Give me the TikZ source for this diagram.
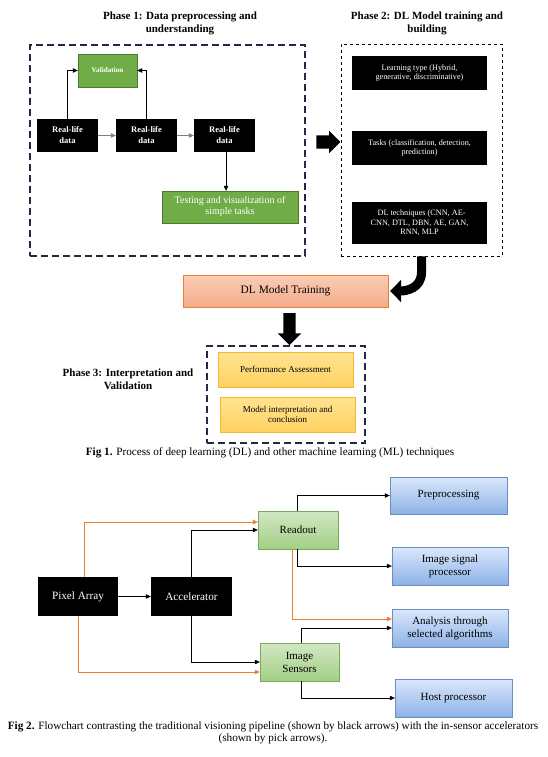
\documentclass[tikz,border=0pt]{standalone}
\usepackage{fontspec}
\setmainfont{Liberation Serif}
\usetikzlibrary{arrows.meta,shapes.arrows}
\definecolor{navy}{HTML}{1F2A44}
\definecolor{grn}{HTML}{70AD47}
\definecolor{grnline}{HTML}{4E7A30}
\definecolor{orng}{HTML}{ED7D31}
\definecolor{salmtop}{HTML}{F9CDB5}
\definecolor{salmbot}{HTML}{F4AC8A}
\definecolor{yeltop}{HTML}{FFE391}
\definecolor{yelbot}{HTML}{FFD262}
\definecolor{yelline}{HTML}{F2B830}
\definecolor{ltgtop}{HTML}{D2E8C4}
\definecolor{ltgbot}{HTML}{A2CF85}
\definecolor{ltgline}{HTML}{7AAA55}
\definecolor{blutop}{HTML}{DAE8FC}
\definecolor{blubot}{HTML}{8DB2E6}
\definecolor{bluline}{HTML}{6C8EBF}
\begin{document}
\begin{tikzpicture}[x=1pt,y=-1pt,>={Triangle[length=5pt,width=4.5pt]},
    blk/.style={fill=black,text=white,align=center,inner sep=0pt,font=\fontsize{8.2}{9.5}\selectfont},
    gbox/.style={fill=grn,draw=grnline,text=white,align=center,inner sep=0pt,font=\fontsize{8}{9.5}\selectfont},
    ybox/.style={top color=yeltop,bottom color=yelbot,draw=yelline,align=center,inner sep=0pt,font=\fontsize{9}{10.5}\selectfont},
    lgbox/.style={top color=ltgtop,bottom color=ltgbot,draw=ltgline,align=center,inner sep=0pt,font=\fontsize{11}{13}\selectfont},
    bbox/.style={top color=blutop,bottom color=blubot,draw=bluline,align=center,inner sep=0pt,font=\fontsize{11}{13}\selectfont},
    phase/.style={align=center,font=\fontsize{11}{13}\selectfont\bfseries},
    frame/.style={draw=navy,line width=1.8pt,dash pattern=on 7pt off 4pt},
    orr/.style={->,draw=orng},
    figcap/.style={align=center,font=\fontsize{11.2}{12.5}\selectfont}]
\useasboundingbox (0,0) rectangle (547,757);

% Fig 1
\node[phase] (P1t) at (180,23) {Phase 1: Data preprocessing and\\understanding};
\node[phase] (P2t) at (427,23) {Phase 2: DL Model training and\\building};
\node[phase] (P3t) at (128,379) {Phase 3: Interpretation and\\Validation};

\node[frame,minimum width=275,minimum height=211,inner sep=0pt] (P1) at (167.5,150.5) {};
\node[draw,dashed,line width=0.6pt,minimum width=161,minimum height=212,inner sep=0pt] (P2) at (421.5,150) {};
\node[frame,minimum width=158,minimum height=97,inner sep=0pt] (P3) at (286,394.5) {};

\node[gbox,minimum width=59,minimum height=33,font=\fontsize{7.2}{8}\selectfont\bfseries] (V) at (107.5,70.5) {Validation};
\node[blk,minimum width=61,minimum height=33,font=\fontsize{8.5}{11}\selectfont\bfseries] (R1) at (67.5,135.5) {Real-life\\data};
\node[blk,minimum width=61,minimum height=33,font=\fontsize{8.5}{11}\selectfont\bfseries] (R2) at (146.5,135.5) {Real-life\\data};
\node[blk,minimum width=61,minimum height=33,font=\fontsize{8.5}{11}\selectfont\bfseries] (R3) at (224.5,135.5) {Real-life\\data};
\node[gbox,minimum width=136,minimum height=32,font=\fontsize{10}{11}\selectfont] (T) at (230,207) {Testing and visualization of\\simple tasks};

\node[blk,minimum width=135,minimum height=34] (L) at (419.5,73) {Learning type (Hybrid,\\generative, discriminative)};
\node[blk,minimum width=135,minimum height=34] (Ta) at (419.5,148) {Tasks (classification, detection,\\prediction)};
\node[blk,minimum width=135,minimum height=42] (Te) at (419.5,223) {\ \ DL techniques (CNN, AE-\\CNN, DTL, DBN, AE, GAN,\\RNN, MLP};

\node[top color=salmtop,bottom color=salmbot,draw=orng,minimum width=205,minimum height=32,inner sep=0pt,font=\fontsize{11.4}{13}\selectfont] (M) at (285.5,291) {DL Model Training};
\node[ybox,minimum width=135,minimum height=35] (Pa) at (285.5,369.5) {Performance Assessment};
\node[ybox,minimum width=135,minimum height=35] (Mi) at (287.5,414.5) {Model interpretation and\\conclusion};

\node[single arrow,fill=black,minimum height=24pt,minimum width=22pt,single arrow head extend=4.5pt,inner sep=6.5pt] (A1) at (325,142) {};
\node[single arrow,fill=black,shape border rotate=270,minimum height=32pt,minimum width=23pt,single arrow head extend=5.5pt,inner sep=6pt] (A2) at (289.5,326) {};

\draw[->,gray] (R1) to (R2); \draw[->,gray] (R2) to (R3);
\draw[->] (R1.north) |- (V.west); \draw[->] (R2.north) |- (V.east);
\draw[->] ([xshift=1.5pt]R3.south) to ([xshift=1.5pt]R3.south |- T.north);
\draw[line width=9pt,-{Triangle[length=11pt,width=22pt]}] (P2.south) -- ++(0,16) .. controls +(0,16) and +(16,0) .. ([xshift=2pt]M.east);

\node[figcap] (C1) at (270,453) {\textbf{Fig 1.} Process of deep learning (DL) and other machine learning (ML) techniques};

% Fig 2
\node[blk,minimum width=80,minimum height=39,font=\fontsize{11.2}{13}\selectfont] (Px) at (78,596.5) {Pixel Array};
\node[blk,minimum width=81,minimum height=39,font=\fontsize{11.2}{13}\selectfont] (Ac) at (191.5,596.5) {Accelerator};
\node[lgbox,minimum width=80,minimum height=38] (Ro) at (298,530) {Readout};
\node[lgbox,minimum width=79,minimum height=38] (IS) at (299.5,662) {Image\\Sensors};
\node[bbox,minimum width=117,minimum height=37] (Pp) at (448.5,495.5) {Preprocessing};
\node[bbox,minimum width=116,minimum height=38] (Sp) at (450,566) {Image signal\\processor};
\node[bbox,minimum width=116,minimum height=38] (An) at (450,628) {Analysis through\\selected algorithms};
\node[bbox,minimum width=117,minimum height=38] (Hp) at (453.5,698) {Host processor};

\draw[->] (Px) to (Ac);
\draw[->] (Ac.north) |- (Ro.west); \draw[->] (Ac.south) |- (IS.west);
\draw[orr] ([xshift=6pt]Px.north) |- ([yshift=8pt]Ro.west); \draw[orr] (Px.south) |- ([yshift=-10pt]IS.west);
\draw[->] ([xshift=-1pt]Ro.north) |- (Pp.west); \draw[->] ([xshift=-1pt]Ro.south) |- (Sp.west);
\draw[orr] ([xshift=-6pt]Ro.south) |- ([yshift=9pt]An.west);
\draw[->] ([xshift=1.5pt]IS.north) |- (An.west); \draw[->] ([xshift=1.5pt]IS.south) |- (Hp.west);

\node[figcap] (C2) at (273,733) {\textbf{Fig 2.} Flowchart contrasting the traditional visioning pipeline (shown by black arrows) with the in-sensor accelerators\\(shown by pick arrows).};
\end{tikzpicture}
\end{document}
